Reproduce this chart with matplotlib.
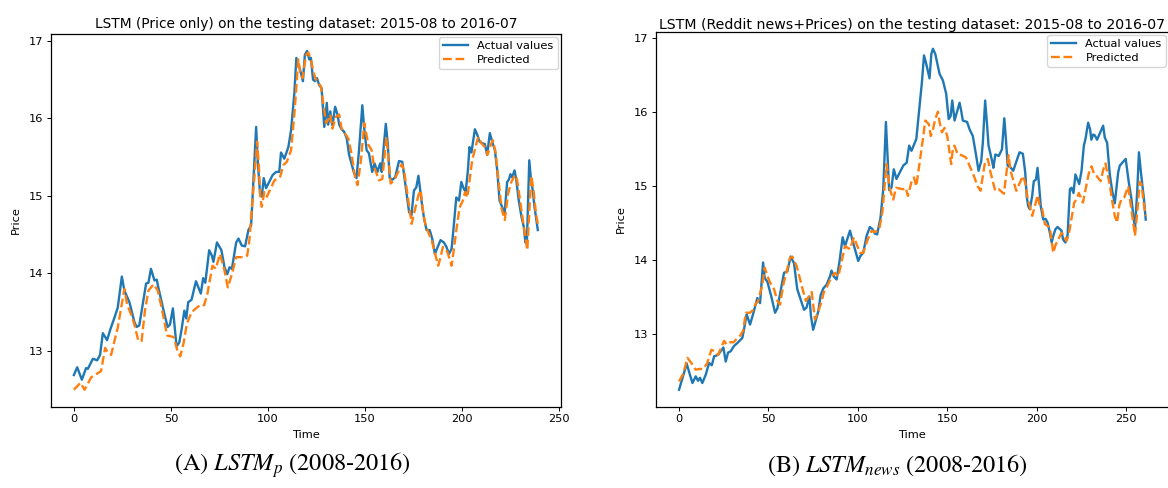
#!/usr/bin/env python3
"""
Side-by-side LSTM test-set predictions: price-only model vs. Reddit-news model.
Writes out.png.
"""
import matplotlib
matplotlib.use("Agg")
import matplotlib.pyplot as plt

# ── (A) price-only model ──────────────────────────────────────────────────────
p_t_actual = [0, 1.7, 4.1, 6.3, 7.2, 9.8, 12, 13.5, 14.9, 17.1, 18.8, 20.9, 22.6,
              24.7, 26.0, 28.6, 31.2, 32.4, 33.7, 37.2, 38.4, 39.7, 41.5, 42.7,
              43.5, 46.6, 48.3, 49.5, 51.0, 52.9, 54.3, 55.5, 56.9, 57.9, 58.9,
              60.6, 62.9, 65.4, 66.6, 67.7, 69.7, 71.1, 71.9, 73.7, 76.0, 77.6,
              79.0, 80.2, 81.4, 83.6, 84.8, 86.5, 88.2, 89.9, 91.3, 93.9, 94.7,
              95.9, 96.8, 97.8, 99.0, 102.4, 104.2, 105.8, 106.7, 108.4, 110.5,
              111.9, 113.6, 114.6, 115.6, 116.5, 118.0, 119.0, 120.1, 121.3,
              122.1, 123.2, 124.2, 125.2, 126.4, 127.6, 129.0, 130.3, 131.0,
              132.1, 133.2, 134.6, 135.8, 136.7, 137.9, 139.2, 140.6, 141.8,
              143.2, 144.4, 145.6, 146.9, 148.6, 149.5, 150.8, 152.0, 153.7,
              154.9, 156.4, 157.8, 158.6, 159.6, 160.7, 161.7, 162.7, 164.1,
              165.5, 167.5, 169.2, 170.9, 172.7, 173.9, 175.2, 176.4, 177.5,
              178.7, 179.5, 180.4, 181.7, 183.3, 184.6, 186.0, 187.4, 188.9,
              190.6, 192.0, 193.2, 194.6, 195.8, 197.0, 198.4, 199.6, 200.6,
              201.8, 203.0, 203.8, 204.8, 206.6, 207.8, 209.0, 210.4, 211.7,
              212.9, 214.3, 215.5, 216.9, 218.1, 219.3, 220.6, 221.9, 223.2,
              224.1, 224.9, 225.8, 227.0, 227.8, 229.2, 230.6, 231.8, 232.6,
              233.4, 234.6, 235.6, 236.3, 237.3, 239]
p_actual = [12.69, 12.79, 12.63, 12.78, 12.77, 12.90, 12.88, 12.95, 13.23, 13.14,
            13.28, 13.43, 13.56, 13.96, 13.78, 13.63, 13.37, 13.31, 13.33, 13.87,
            13.88, 14.06, 13.91, 13.92, 13.82, 13.48, 13.31, 13.34, 13.55, 13.06,
            13.11, 13.28, 13.52, 13.42, 13.63, 13.66, 13.90, 13.74, 13.94, 13.88,
            14.30, 14.23, 14.15, 14.40, 14.30, 14.08, 13.99, 14.08, 14.06, 14.40,
            14.45, 14.36, 14.35, 14.56, 14.62, 15.89, 15.46, 15.03, 14.99, 15.23,
            15.10, 15.27, 15.31, 15.31, 15.56, 15.48, 15.63, 15.85, 16.33, 16.78,
            16.70, 16.63, 16.48, 16.82, 16.87, 16.76, 16.78, 16.50, 16.48, 16.52,
            16.43, 16.39, 15.89, 16.20, 15.92, 16.09, 15.91, 16.15, 16.05, 15.92,
            15.86, 15.83, 15.74, 15.53, 15.40, 15.29, 15.23, 15.59, 16.17, 15.89,
            15.59, 15.55, 15.31, 15.42, 15.31, 15.42, 15.31, 15.63, 15.93, 15.68,
            15.23, 15.21, 15.24, 15.45, 15.44, 15.12, 14.79, 14.75, 15.07, 15.11,
            15.26, 15.02, 14.86, 14.71, 14.56, 14.56, 14.45, 14.25, 14.34, 14.43,
            14.40, 14.34, 14.25, 14.32, 14.64, 14.98, 14.94, 15.18, 15.11, 15.05,
            15.33, 15.63, 15.56, 15.86, 15.79, 15.70, 15.68, 15.67, 15.53, 15.81,
            15.70, 15.59, 15.33, 14.94, 14.86, 14.77, 15.18, 15.21, 15.28, 15.24,
            15.33, 15.23, 14.94, 14.73, 14.60, 14.40, 14.42, 15.46, 15.18, 15.09,
            14.86, 14.56]

p_t_pred = [0, 3.4, 5.5, 8.9, 14.0, 16.1, 17.5, 19.2, 20.9, 22.6, 26.0, 27.4, 29.5,
            31.2, 33.2, 34.9, 36.6, 38.4, 41.1, 43.2, 45.2, 48.0, 51.4, 53.4, 54.8,
            56.5, 58.2, 60.6, 63.4, 65.4, 67.1, 68.8, 71.4, 73.1, 75.2, 77.4, 79.3,
            81.4, 83.6, 87.9, 89.3, 90.4, 94.4, 95.3, 96.1, 96.8, 98.1, 99.4, 103.3,
            106.3, 108.0, 109.7, 111.9, 113.9, 115.6, 116.6, 117.8, 119.6, 120.8,
            122.1, 123.5, 124.7, 127.3, 128.5, 129.9, 131.0, 132.1, 133.2, 135.0,
            136.7, 137.9, 140.1, 141.4, 143.0, 144.8, 146.1, 147.9, 149.6, 151.7,
            153.4, 154.6, 157.2, 158.9, 161.0, 163.2, 165.0, 168.9, 170.1, 174.0,
            177.5, 178.7, 179.9, 181.2, 182.9, 184.3, 187.7, 188.9, 190.1, 192.4,
            194.6, 195.9, 197.2, 198.7, 200.4, 201.5, 202.7, 205.2, 207.2, 208.3,
            210.0, 211.7, 213.1, 214.3, 215.8, 217.2, 220.3, 222.0, 223.7, 225.4,
            227.2, 228.4, 231.8, 233.6, 235.6, 236.8, 238.0, 239]
p_pred = [12.50, 12.59, 12.50, 12.66, 12.74, 13.04, 12.98, 12.95, 13.13, 13.30,
          13.80, 13.60, 13.47, 13.34, 13.13, 13.13, 13.52, 13.78, 13.86, 13.78,
          13.56, 13.20, 13.18, 13.00, 12.93, 13.10, 13.35, 13.50, 13.56, 13.60,
          13.59, 13.74, 14.10, 14.06, 14.25, 14.06, 13.82, 13.99, 14.21, 14.21,
          14.23, 14.43, 15.70, 15.38, 14.97, 14.86, 15.05, 14.99, 15.20, 15.25,
          15.40, 15.44, 15.59, 16.15, 16.76, 16.59, 16.52, 16.82, 16.85, 16.76,
          16.59, 16.50, 16.41, 16.19, 15.94, 15.98, 16.05, 15.87, 16.02, 16.05,
          15.87, 15.79, 15.74, 15.55, 15.25, 15.14, 15.46, 15.94, 15.66, 15.59,
          15.38, 15.20, 15.22, 15.76, 15.16, 15.20, 15.41, 15.33, 14.64, 15.01,
          15.07, 14.79, 14.62, 14.51, 14.43, 14.10, 14.21, 14.34, 14.28, 14.10,
          14.34, 14.59, 14.85, 14.94, 15.05, 14.98, 15.46, 15.66, 15.76, 15.68,
          15.63, 15.53, 15.63, 15.72, 15.57, 14.84, 14.69, 15.03, 15.18, 15.27,
          15.20, 14.60, 14.30, 15.26, 15.08, 14.78, 14.64]

# ── (B) Reddit news + prices model ───────────────────────────────────────────
n_t_actual = [0, 4.3, 6.1, 7.5, 9.3, 10.6, 11.7, 13.0, 14.9, 16.8, 18.3, 19.6, 21.8,
              24.8, 26.1, 27.4, 28.9, 30.7, 32.6, 35.4, 36.3, 37.8, 39.7, 41.5,
              43.8, 45.3, 47.0, 47.9, 49.4, 51.6, 53.7, 55.0, 58.7, 60.6, 62.4,
              64.3, 66.1, 68.0, 69.9, 71.3, 72.9, 73.8, 75.0, 76.6, 77.9, 79.2,
              80.7, 82.5, 84.4, 85.3, 86.6, 88.1, 89.6, 91.5, 92.8, 95.6, 97.1,
              100.2, 101.5, 103.0, 104.9, 106.7, 108.2, 109.5, 110.8, 112.7, 114.2,
              115.7, 116.6, 117.5, 118.8, 120.1, 121.6, 125.4, 127.3, 128.7, 130.0,
              132.7, 135.8, 137.0, 138.3, 140.1, 141.1, 142.0, 143.3, 145.7, 147.6,
              149.4, 150.8, 151.9, 152.8, 154.1, 156.9, 157.8, 158.7, 161.1, 162.5,
              164.3, 166.2, 167.5, 169.0, 169.9, 171.2, 172.3, 173.1, 175.1, 175.8,
              176.9, 178.8, 180.6, 181.9, 182.8, 183.8, 185.6, 186.9, 190.4, 192.3,
              193.6, 194.5, 195.3, 196.2, 197.5, 198.4, 199.6, 200.5, 201.4, 202.3,
              203.7, 205.0, 206.1, 207.4, 208.4, 209.3, 210.5, 211.7, 213.9, 214.8,
              216.1, 217.3, 218.6, 219.5, 220.6, 221.7, 222.8, 223.8, 225.1, 226.4,
              227.3, 228.8, 229.9, 230.6, 231.6, 232.5, 233.8, 237.2, 238.1, 239.4,
              240.9, 242.3, 243.7, 245.6, 246.5, 249.8, 251.5, 253.0, 255.0, 256.3,
              257.2, 258.5, 260.0, 261]
n_actual = [12.25, 12.60, 12.45, 12.34, 12.43, 12.37, 12.41, 12.34, 12.45, 12.61,
            12.58, 12.70, 12.72, 12.82, 12.63, 12.75, 12.77, 12.84, 12.88, 12.95,
            13.06, 13.27, 13.13, 13.28, 13.49, 13.42, 13.97, 13.76, 13.71, 13.51,
            13.29, 13.35, 13.83, 13.85, 14.05, 13.96, 13.61, 13.47, 13.33, 13.36,
            13.51, 13.24, 13.06, 13.20, 13.31, 13.53, 13.62, 13.67, 13.78, 13.86,
            13.78, 13.74, 13.96, 14.31, 14.19, 14.40, 14.26, 13.99, 14.06, 14.10,
            14.33, 14.45, 14.42, 14.36, 14.35, 14.58, 14.96, 15.87, 15.41, 14.95,
            14.98, 15.23, 15.10, 15.28, 15.32, 15.55, 15.48, 15.64, 16.40, 16.77,
            16.65, 16.46, 16.79, 16.86, 16.79, 16.52, 16.43, 16.25, 15.91, 15.95,
            16.16, 15.89, 16.13, 16.02, 15.89, 15.87, 15.77, 15.68, 15.41, 15.21,
            15.34, 15.59, 16.16, 15.82, 15.55, 15.34, 15.25, 15.43, 15.41, 15.50,
            15.92, 15.64, 15.28, 15.25, 15.21, 15.46, 15.44, 15.19, 14.85, 14.73,
            14.69, 14.87, 15.07, 15.09, 15.25, 15.00, 14.73, 14.55, 14.56, 14.51,
            14.37, 14.24, 14.33, 14.42, 14.45, 14.40, 14.28, 14.24, 14.34, 14.96,
            14.98, 14.91, 15.16, 15.09, 15.03, 15.21, 15.55, 15.64, 15.86, 15.77,
            15.63, 15.70, 15.69, 15.63, 15.82, 15.66, 15.59, 15.16, 14.93, 14.77,
            15.19, 15.28, 15.37, 15.06, 14.83, 14.42, 14.96, 15.46, 15.15, 14.83,
            14.55]

n_t_pred = [0, 2.4, 4.7, 6.9, 9.3, 11.2, 13.6, 15.8, 18.1, 19.9, 21.8, 25.2, 26.6,
            28.5, 30.4, 34.5, 35.9, 37.3, 39.7, 41.5, 42.8, 44.1, 46.6, 47.9, 49.4,
            50.9, 53.1, 55.0, 56.5, 58.3, 60.2, 62.0, 63.4, 65.8, 69.1, 70.9, 74.2,
            76.0, 77.9, 79.7, 81.0, 82.9, 85.3, 87.2, 89.1, 92.8, 95.6, 97.8, 101.2,
            103.0, 105.2, 107.7, 109.5, 112.0, 113.8, 116.0, 117.9, 119.8, 121.3,
            125.4, 126.8, 128.0, 129.9, 131.4, 132.7, 136.4, 137.7, 139.7, 140.8,
            142.0, 143.3, 144.8, 145.7, 147.0, 148.5, 150.0, 152.2, 153.1, 154.0,
            155.9, 158.1, 160.5, 163.0, 164.9, 167.0, 168.6, 171.2, 172.7, 174.2,
            176.8, 178.7, 181.7, 184.3, 185.4, 186.7, 188.6, 192.3, 193.6, 194.9,
            197.5, 199.0, 200.5, 201.8, 203.1, 204.6, 207.4, 209.3, 210.6, 212.1,
            213.9, 215.4, 216.7, 218.0, 221.0, 222.3, 223.6, 225.9, 229.2, 230.7,
            232.2, 233.5, 235.8, 237.2, 238.5, 241.1, 242.4, 243.7, 245.0, 246.2,
            247.5, 249.0, 251.2, 255.0, 256.7, 257.6, 258.6, 260.1, 261]
n_pred = [12.36, 12.47, 12.68, 12.61, 12.52, 12.53, 12.53, 12.61, 12.79, 12.77,
          12.72, 12.91, 12.86, 12.89, 12.89, 12.99, 13.05, 13.29, 13.29, 13.33,
          13.41, 13.44, 13.67, 13.90, 13.79, 13.70, 13.61, 13.45, 13.40, 13.67,
          13.85, 14.03, 14.05, 13.92, 13.61, 13.45, 13.57, 13.20, 13.31, 13.44,
          13.57, 13.65, 13.78, 13.83, 13.78, 14.19, 14.15, 14.31, 14.10, 14.10,
          14.26, 14.40, 14.38, 14.42, 14.67, 15.30, 14.96, 14.82, 14.98, 14.96,
          14.98, 14.87, 15.05, 15.12, 15.00, 15.64, 15.89, 15.84, 15.68, 15.77,
          15.91, 16.01, 15.87, 15.73, 15.79, 15.68, 15.30, 15.50, 15.55, 15.43,
          15.42, 15.39, 15.25, 15.14, 15.00, 14.94, 15.34, 15.37, 15.19, 14.94,
          14.96, 14.90, 15.42, 15.21, 15.10, 14.94, 15.14, 15.05, 14.85, 14.60,
          14.73, 14.88, 14.73, 14.69, 14.49, 14.44, 14.10, 14.21, 14.28, 14.37,
          14.33, 14.26, 14.35, 14.78, 14.82, 14.91, 14.78, 15.18, 15.27, 15.16,
          15.14, 15.07, 15.22, 15.31, 14.99, 14.78, 14.60, 14.51, 14.74, 14.83,
          14.85, 15.00, 14.33, 14.77, 15.06, 15.03, 14.73, 14.60]

TITLES = ["LSTM (Price only) on the testing dataset: 2015-08 to 2016-07",
          "LSTM (Reddit news+Prices) on the testing dataset: 2015-08 to 2016-07"]
CAPTIONS = [r"(A) $\mathit{LSTM}_p$ (2008-2016)",
            r"(B) $\mathit{LSTM}_{news}$ (2008-2016)"]

plt.rcParams["mathtext.fontset"] = "stix"

fig = plt.figure(figsize=(11.68, 4.88), dpi=100)
ax_a = fig.add_axes([0.0434, 0.1666, 0.4369, 0.7637])
ax_b = fig.add_axes([0.5614, 0.1666, 0.4395, 0.7684])

# per panel: axes, series, title size, title pad
panels = [(ax_a, p_t_actual, p_actual, p_t_pred, p_pred, 9.9, 4),
          (ax_b, n_t_actual, n_actual, n_t_pred, n_pred, 10.2, 1)]
FS = 8.2
for i, (ax, ta, ya, tp, yp, tfs, pad) in enumerate(panels):
    ax.plot(ta, ya, color="#1f77b4", lw=1.7, label="Actual values")
    ax.plot(tp, yp, "--", color="#ff7f0e", lw=1.7, label="Predicted")
    ax.set_title(TITLES[i], fontsize=tfs, pad=pad)
    ax.set_xlabel("Time", fontsize=FS, labelpad=4)
    ax.set_ylabel("Price", fontsize=FS, labelpad=6)
    ax.tick_params(labelsize=FS, length=2.8, width=0.7, pad=2.5)
    ax.set_xticks([0, 50, 100, 150, 200, 250])
    ax.set_yticks([13, 14, 15, 16, 17])
    for s in ax.spines.values():
        s.set_linewidth(0.9)
    ax.legend(loc="upper right", fontsize=FS, borderaxespad=0.3,
              handlelength=2.2, labelspacing=0.3, borderpad=0.35)

fig.text(0.25, 0.047, CAPTIONS[0], ha="center", va="center",
         fontsize=17.5, family="STIXGeneral")
fig.text(0.768, 0.047, CAPTIONS[1], ha="center", va="center",
         fontsize=17.5, family="STIXGeneral")

fig.savefig("out.png", dpi=100)
